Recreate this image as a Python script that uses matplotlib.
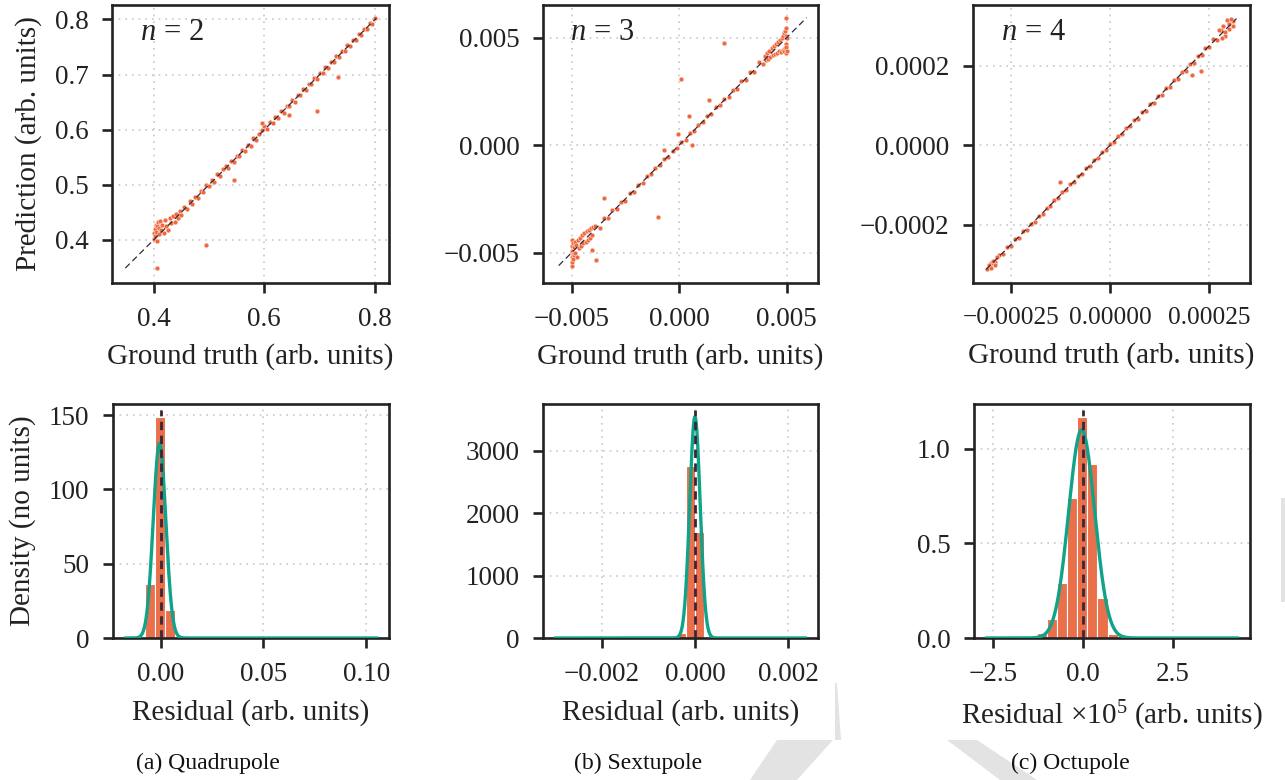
import numpy as np
import matplotlib
matplotlib.use("Agg")
import matplotlib.pyplot as plt
from matplotlib.patches import Polygon

plt.rcParams['font.family'] = ['Liberation Serif', 'DejaVu Serif']
plt.rcParams['mathtext.fontset'] = 'custom'
plt.rcParams['mathtext.rm'] = 'Liberation Serif'
plt.rcParams['mathtext.it'] = 'Liberation Serif:italic'

# ---------------- data ----------------
# Quadrupole (n = 2): ground truth vs prediction
quad_truth = [0.400, 0.401, 0.402, 0.403, 0.404, 0.405, 0.406, 0.407, 0.408, 0.409,
              0.410, 0.412, 0.414, 0.416, 0.418, 0.420, 0.423, 0.426, 0.429, 0.432,
              0.435, 0.438, 0.441, 0.444, 0.447, 0.450,
              0.455, 0.460, 0.465, 0.470, 0.475, 0.480, 0.485, 0.490, 0.495, 0.500,
              0.505, 0.510, 0.515, 0.520, 0.525, 0.530, 0.535, 0.540, 0.545, 0.550,
              0.555, 0.560, 0.565, 0.570, 0.575, 0.580, 0.585, 0.590, 0.595, 0.600,
              0.605, 0.610, 0.615, 0.620, 0.625, 0.630, 0.635, 0.640, 0.645, 0.650,
              0.655, 0.660, 0.665, 0.670, 0.675, 0.680, 0.685, 0.690, 0.695, 0.700,
              0.705, 0.710, 0.715, 0.720, 0.725, 0.730, 0.735, 0.740, 0.745, 0.750,
              0.755, 0.760, 0.765, 0.770, 0.775, 0.780, 0.785, 0.790, 0.795, 0.800,
              0.407, 0.495, 0.546, 0.596, 0.645, 0.695, 0.733]
quad_pred = [0.402, 0.412, 0.420, 0.407, 0.428, 0.415, 0.399, 0.425, 0.432, 0.410,
             0.422, 0.435, 0.418, 0.428, 0.412, 0.437, 0.426, 0.418, 0.440, 0.430,
             0.444, 0.432, 0.447, 0.439, 0.452, 0.446,
             0.459, 0.456, 0.470, 0.466, 0.478, 0.476, 0.489, 0.487, 0.499, 0.497,
             0.508, 0.506, 0.519, 0.516, 0.528, 0.534, 0.531, 0.544, 0.541, 0.553,
             0.552, 0.564, 0.561, 0.573, 0.571, 0.584, 0.582, 0.593, 0.600, 0.606,
             0.601, 0.613, 0.612, 0.623, 0.622, 0.633, 0.631, 0.643, 0.642, 0.653,
             0.651, 0.663, 0.662, 0.673, 0.671, 0.683, 0.682, 0.693, 0.691, 0.703,
             0.702, 0.713, 0.711, 0.723, 0.722, 0.733, 0.731, 0.743, 0.742, 0.753,
             0.751, 0.763, 0.762, 0.773, 0.771, 0.783, 0.782, 0.793, 0.791, 0.802,
             0.349, 0.391, 0.509, 0.612, 0.627, 0.633, 0.695]

# Sextupole (n = 3)
sext_truth = [-0.00500, -0.00500, -0.00499, -0.00498, -0.00497, -0.00496, -0.00495, -0.00494,
              -0.00492, -0.00490, -0.00488, -0.00485, -0.00482, -0.00480, -0.00475, -0.00470,
              -0.00465, -0.00460, -0.00455, -0.00450, -0.00445, -0.00440, -0.00435, -0.00430,
              -0.00425, -0.00420, -0.00415, -0.00410, -0.00405, -0.00400,
              -0.0039, -0.0037, -0.0035, -0.0033, -0.0031, -0.0029, -0.0027, -0.0025,
              -0.0023, -0.0021, -0.0019, -0.0017, -0.0015, -0.0013, -0.0011, -0.0009,
              -0.0007, -0.0005, -0.0003, -0.0001, 0.0001, 0.0003, 0.0005, 0.0007,
              0.0009, 0.0011, 0.0013, 0.0015, 0.0017, 0.0019, 0.0021, 0.0023,
              0.0025, 0.0027, 0.0029, 0.0031, 0.0033, 0.0035, 0.0037, 0.0039,
              0.00400, 0.00405, 0.00410, 0.00415, 0.00420, 0.00425, 0.00430, 0.00435,
              0.00440, 0.00445, 0.00450, 0.00455, 0.00460, 0.00465, 0.00470, 0.00475,
              0.00480, 0.00482, 0.00485, 0.00488, 0.00490, 0.00492, 0.00494, 0.00495,
              0.00496, 0.00497, 0.00498, 0.00499, 0.00500, 0.00500,
              0.00209, 0.00007, 0.00045, 0.00138, -0.00005, 0.00062, -0.00070,
              -0.00098, -0.00350, -0.00387, -0.00407, 0.00495]
sext_pred = [-0.00560, -0.00470, -0.00520, -0.00440, -0.00545, -0.00490, -0.00505, -0.00455,
             -0.00530, -0.00475, -0.00510, -0.00450, -0.00500, -0.00465, -0.00520, -0.00440,
             -0.00480, -0.00430, -0.00470, -0.00420, -0.00455, -0.00410, -0.00450, -0.00400,
             -0.00440, -0.00395, -0.00430, -0.00385, -0.00420, -0.00380,
             -0.00375, -0.00385, -0.00340, -0.00338, -0.00300, -0.00298, -0.00262, -0.00258,
             -0.00222, -0.00216, -0.00184, -0.00175, -0.00145, -0.00136, -0.00105, -0.00094,
             -0.00066, -0.00054, -0.00026, -0.00013, 0.00014, 0.00026, 0.00055, 0.00066,
             0.00095, 0.00106, 0.00136, 0.00146, 0.00176, 0.00185, 0.00216, 0.00224,
             0.00258, 0.00263, 0.00298, 0.00303, 0.00340, 0.00342, 0.00385, 0.00378,
             0.00415, 0.00395, 0.00430, 0.00400, 0.00440, 0.00410, 0.00450, 0.00420,
             0.00460, 0.00425, 0.00470, 0.00430, 0.00480, 0.00440, 0.00490, 0.00435,
             0.00500, 0.00445, 0.00510, 0.00440, 0.00520, 0.00450, 0.00530, 0.00430,
             0.00470, 0.00545, 0.00455, 0.00510, 0.00440, 0.00500,
             0.00473, 0.00306, 0.00138, 0.00208, 0.00053, 0.00000, -0.00023,
             -0.00333, -0.00245, -0.00536, -0.00488, 0.00593]

# Octupole (n = 4), in units of 1e-6
oct_truth_u = [-310, -300, -290, -280, -270, -260, -250, -240, -230, -220, -210, -200,
               -190, -180, -170, -160, -150, -140, -130, -120, -110, -100, -90, -80,
               -70, -60, -50, -40, -30, -20, -10, 0, 10, 20, 30, 40, 50, 60, 70, 80,
               90, 100, 110, 120, 130, 140, 150, 160, 170, 180, 190, 200, 210, 220,
               230, 240, 250, 260, 270, 280, 290, 300, 310,
               275, 285, 290, 295, 300, 305, 310, 298, 282, -305, -300, -295, -290, -285,
               -125, 206, 228]
oct_pred_u = [-312, -296, -294, -276, -273, -256, -253, -236, -234, -216, -213, -197,
              -193, -177, -173, -157, -153, -137, -133, -117, -113, -97, -93, -77,
              -73, -57, -53, -37, -33, -17, -13, 2, 7, 23, 27, 43, 47, 63, 67, 83,
              87, 103, 107, 123, 127, 143, 147, 163, 167, 183, 187, 204, 206, 224,
              226, 245, 246, 266, 264, 288, 284, 307, 312,
              290, 300, 275, 315, 292, 318, 300, 305, 270, -300, -308, -290, -300, -280,
              -93, 177, 186]

# Residual histograms (bin edges + density heights)
quad_edges = [-0.0121, -0.0074, -0.0027, 0.0021, 0.0068]
quad_density = [1.0, 36.4, 148.9, 18.5]
sext_edges = [-0.00058, -0.00039, -0.00020, 0.00000, 0.00019, 0.00038]
sext_density = [0.0, 75.0, 2756.0, 1699.0, 20.0]
oct_edges = [-1.56, -1.28, -1.00, -0.72, -0.44, -0.16, 0.12, 0.40, 0.68, 0.96]
oct_density = [0.004, 0.026, 0.099, 0.292, 0.738, 1.168, 0.919, 0.210, 0.020]

# Normal fits: mean, std, data range of residuals
quad_fit = dict(mu=-0.0005, sigma=0.00305, lo=-0.0170, hi=0.1050)
sext_fit = dict(mu=0.0, sigma=0.0001125, lo=-0.00299, hi=0.00237)
oct_fit = dict(mu=-0.04, sigma=0.363, lo=-2.69, hi=4.30)

top_xlim = [(0.325, 0.825), (-0.00633, 0.00646), (-0.000345, 0.000352)]
top_ylim = [(0.322, 0.826), (-0.00641, 0.00652), (-0.000346, 0.000352)]
top_xticks = [[0.4, 0.6, 0.8], [-0.005, 0.0, 0.005], [-0.00025, 0.0, 0.00025]]
top_xticklabels = [["0.4", "0.6", "0.8"], ["\u22120.005", "0.000", "0.005"],
                   ["\u22120.00025", "0.00000", "0.00025"]]
top_yticks = [[0.4, 0.5, 0.6, 0.7, 0.8], [-0.005, 0.0, 0.005], [-0.0002, 0.0, 0.0002]]
top_yticklabels = [["0.4", "0.5", "0.6", "0.7", "0.8"], ["\u22120.005", "0.000", "0.005"],
                   ["\u22120.0002", "0.0000", "0.0002"]]
n_labels = ["2", "3", "4"]

bot_xlim = [(-0.0231, 0.1110), (-0.00326, 0.00264), (-3.04, 4.65)]
bot_ylim = [(0, 157.4), (0, 3750), (0, 1.235)]
bot_xticks = [[0.0, 0.05, 0.10], [-0.002, 0.0, 0.002], [-2.5, 0.0, 2.5]]
bot_xticklabels = [["0.00", "0.05", "0.10"], ["\u22120.002", "0.000", "0.002"],
                   ["\u22122.5", "0.0", "2.5"]]
bot_yticks = [[0, 50, 100, 150], [0, 1000, 2000, 3000], [0.0, 0.5, 1.0]]
bot_yticklabels = [["0", "50", "100", "150"], ["0", "1000", "2000", "3000"],
                   ["0.0", "0.5", "1.0"]]
bot_xlabels = ["Residual (arb. units)", "Residual (arb. units)",
               "Residual $\\times 10^5$ (arb. units)"]
captions = ["(a) Quadrupole", "(b) Sextupole", "(c) Octupole"]

# ---------------- style ----------------
DARK = "#222222"
ORANGE = "#EE6A3E"
BAR = "#E9704A"
GREEN = "#10A389"
DASH = "#3B2537"
FS_LAB = 21
FS_TICK = 19.5

W, H = 1285, 780
fig = plt.figure(figsize=(W / 100, H / 100), dpi=100)


def px(x, y):
    return (x / W, 1 - y / H)


# faint, mostly hidden watermark fragments behind the panels
watermark_shapes = [
    [(777, 740), (833, 740), (797, 780), (750, 780)],
    [(947, 740), (977, 740), (1037, 780), (1000, 780)],
    [(835, 683), (837, 683), (841, 740), (835, 740)],
    [(1281, 498), (1285, 498), (1285, 602), (1281, 602)],
]
for shp in watermark_shapes:
    fig.patches.append(Polygon([px(*p) for p in shp], closed=True, transform=fig.transFigure,
                               facecolor="#e3e3e3", edgecolor="none", zorder=0))


def box(l, r, t, b):
    return [l / W, (H - b) / H, (r - l) / W, (b - t) / H]


top_boxes = [box(112, 389, 5, 283), box(543, 818, 5, 283), box(973, 1250, 5, 283)]
bot_boxes = [box(113, 389, 404, 638), box(543, 818, 404, 638), box(974, 1250, 404, 638)]


def style(ax):
    for s in ax.spines.values():
        s.set_color(DARK)
        s.set_linewidth(1.9)
    ax.tick_params(direction="out", length=7, width=1.9, color=DARK,
                   labelsize=FS_TICK, labelcolor=DARK, pad=10)
    ax.grid(True, linestyle=(0, (1, 3)), color="#c8c8c8", linewidth=1.2)
    ax.set_axisbelow(True)


scat = [(quad_truth, quad_pred),
        (sext_truth, sext_pred),
        ([v * 1e-6 for v in oct_truth_u], [v * 1e-6 for v in oct_pred_u])]
for i in range(3):
    ax = fig.add_axes(top_boxes[i])
    style(ax)
    t, p = scat[i]
    ax.scatter(t, p, s=12, color=ORANGE, edgecolor="white", linewidth=0.3, zorder=3)
    lo = min(min(t), min(p))
    hi = max(max(t), max(p))
    ax.plot([lo, hi], [lo, hi], color=DASH, linestyle=(0, (5, 3)), linewidth=0.9, zorder=4)
    ax.set_xlim(top_xlim[i])
    ax.set_ylim(top_ylim[i])
    ax.set_xticks(top_xticks[i])
    ax.set_xticklabels(top_xticklabels[i], fontsize=(18.3 if i == 2 else FS_TICK))
    ax.set_yticks(top_yticks[i])
    ax.set_yticklabels(top_yticklabels[i])
    ax.set_xlabel("Ground truth (arb. units)", fontsize=FS_LAB, color=DARK,
                  labelpad=(10 if i == 2 else 8))
    if i == 0:
        ax.set_ylabel("Prediction (arb. units)", fontsize=FS_LAB, color=DARK, labelpad=9)
    ax.text(0.1, 0.9, "$n\\,=\\,$" + n_labels[i], transform=ax.transAxes,
            fontsize=22, color=DARK, va="center", ha="left")

hists = [(quad_edges, quad_density, quad_fit), (sext_edges, sext_density, sext_fit),
         (oct_edges, oct_density, oct_fit)]
for i in range(3):
    ax = fig.add_axes(bot_boxes[i])
    style(ax)
    edges, dens, fit = hists[i]
    edges = np.array(edges)
    ax.bar(edges[:-1], dens, width=np.diff(edges), align="edge", color=BAR,
           edgecolor="white", linewidth=0.8, zorder=2)
    xs = np.linspace(fit["lo"], fit["hi"], 1500)
    ys = np.exp(-0.5 * ((xs - fit["mu"]) / fit["sigma"]) ** 2) / (fit["sigma"] * np.sqrt(2 * np.pi))
    ax.plot(xs, ys, color=GREEN, linewidth=2.4, zorder=3)
    ax.axvline(0, ymax=0.975, color=DASH, linestyle=(0, (3, 2)), linewidth=2.0, zorder=4)
    ax.set_xlim(bot_xlim[i])
    ax.set_ylim(bot_ylim[i])
    ax.set_xticks(bot_xticks[i])
    ax.set_xticklabels(bot_xticklabels[i])
    ax.set_yticks(bot_yticks[i])
    ax.set_yticklabels(bot_yticklabels[i])
    ax.set_xlabel(bot_xlabels[i], fontsize=FS_LAB, color=DARK, labelpad=9)
    if i == 0:
        ax.set_ylabel("Density (no units)", fontsize=FS_LAB, color=DARK, labelpad=9)

cap_x = [208, 638, 1070]
for i in range(3):
    fig.text(cap_x[i] / W, 1 - 763 / H, captions[i], ha="center", va="center",
             fontsize=17, color="#111111")

fig.savefig("out.png", dpi=100)
